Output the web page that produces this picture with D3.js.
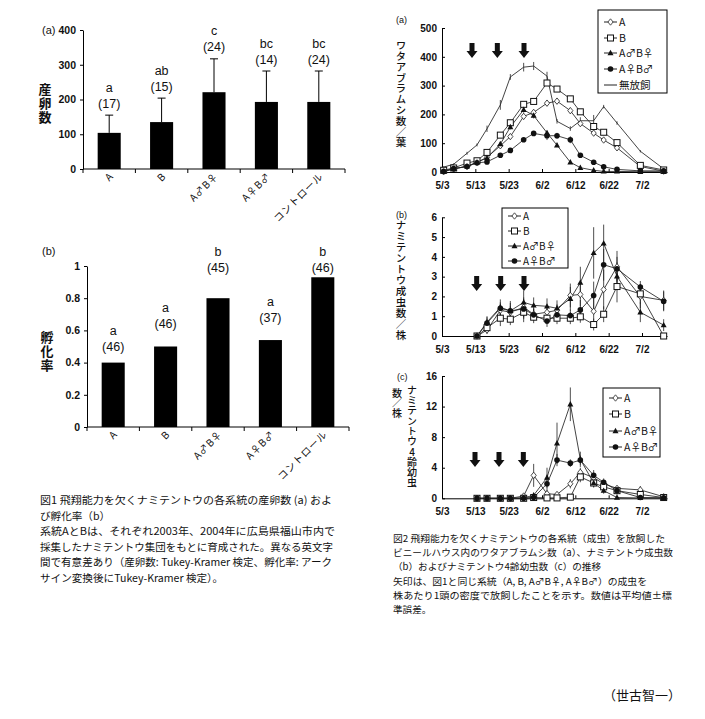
<!DOCTYPE html>
<html><head><meta charset="utf-8">
<script src="https://cdn.jsdelivr.net/npm/d3@7"></script>
<style>
body{margin:0;background:#fff}
svg{display:block}
text{font-family:"Noto Sans CJK JP","Noto Sans",sans-serif;fill:#111}
.lat{font-family:"Liberation Sans",Arial,sans-serif}
</style>
</head><body>
<svg id="c" width="705" height="719"></svg>
<script>
// ---------- Figure 1 data ----------
const strains = ["A","B","A♂B♀","A♀B♂","コントロール"];
const eggMean = [104,135,221,193,193];
const eggSE = [51,69,96,89,89];
const eggLetters = ["a","ab","c","bc","bc"];
const eggN = ["(17)","(15)","(24)","(14)","(24)"];
const eggTicks = [0,100,200,300,400];

const hatchRate = [0.40,0.50,0.80,0.54,0.93];
const hatchLetters = ["a","a","b","a","b"];
const hatchN = ["(46)","(46)","(45)","(37)","(46)"];
const hatchLabelLevel = [0.50,0.64,0.99,0.68,0.99];
const hatchTicks = [0,0.2,0.4,0.6,0.8,1];

// ---------- Figure 2 data ----------
const dateTicks = ["5/3","5/13","5/23","6/2","6/12","6/22","7/2"];
const aphidDates = ["5/3","5/6","5/10","5/13","5/16","5/20","5/23","5/27","5/30","6/3","6/6","6/10","6/13","6/17","6/20","6/24","7/1","7/8"];
const aphidA    = [2,11,19,33,51,91,123,193,207,239,246,213,168,135,111,84,19,3];
const aphidB    = [6,14,31,39,68,128,171,235,245,309,288,254,209,158,138,102,23,7];
const aphidAmBf = [2,11,20,34,49,97,156,216,196,136,93,34,15,6,2,2,1,1];
const aphidAfBm = [2,12,19,32,35,58,75,112,134,126,126,112,58,34,18,9,4,4];
const aphidNone = [17,27,65,94,150,233,330,364,368,333,176,151,178,178,227,170,72,11];
const aphidAErr    = [1,2,3,3,4,6,8,10,8,10,10,10,8,8,6,6,3,1];
const aphidBErr    = [1,2,3,3,4,6,8,8,8,8,8,8,8,6,6,6,3,1];
const aphidAmBfErr = [1,2,3,3,4,8,8,10,10,8,6,4,2,1,1,1,1,1];
const aphidAfBmErr = [1,2,3,3,4,4,5,6,8,15,10,12,6,4,3,2,1,1];
const aphidNoneErr = [3,3,5,5,11,17,10,15,14,15,8,8,12,20,6,6,4,3];
const aphidArrowDays = [9.0,16.6,24.6];

const adultDates = ["5/13","5/16","5/20","5/23","5/27","5/30","6/3","6/6","6/10","6/13","6/17","6/20","6/24","7/1","7/8"];
const adultA    = [0,0.3,1.3,1.2,1.45,1.1,1.2,1.3,2.05,2.1,1.25,2.35,3.5,2.0,1.8];
const adultB    = [0,0.42,0.9,0.85,1.2,0.95,0.9,0.9,0.9,0.97,0.58,1.1,2.5,2.13,0];
const adultAmBf = [0,0.7,1.45,1.27,1.7,1.55,1.5,1.4,1.88,2.7,4.2,4.68,3.02,1.2,0.55];
const adultAfBm = [0,0.65,1.4,1.27,1.37,1.07,0.76,1.07,1.03,1.32,2.05,3.6,3.4,2.48,1.75];
const adultAErr    = [0,0.2,0.3,0.3,0.5,0.3,0.3,0.3,0.6,0.6,0.7,1.0,0.8,0.6,0.5];
const adultBErr    = [0,0.2,0.4,0.3,0.5,0.3,0.3,0.3,0.3,0.3,0.3,0.4,0.8,0.5,0];
const adultAmBfErr = [0,0.3,0.4,0.5,0.6,0.4,0.4,0.4,0.6,0.8,1.3,0.95,0.7,0.5,0.3];
const adultAfBmErr = [0,0.3,0.3,0.4,0.5,0.3,0.3,0.3,0.3,0.5,0.7,0.8,0.6,0.3,0.5];
const adultArrowDays = [10.4,17.6,24.6];

const larvaDates = ["5/13","5/16","5/20","5/23","5/27","5/30","6/3","6/6","6/10","6/13","6/17","6/20","6/24","7/1","7/8"];
const larvaA    = [0,0,0,0,0.3,3.0,0.6,0.5,1.9,3.4,2.7,1.9,1.3,1.1,0.2];
const larvaB    = [0,0,0,0,0,0.1,0.05,0.05,0.15,2.8,2.0,1.5,1.0,0.5,0.1];
const larvaAmBf = [0,0,0,0,0.05,0.4,2.7,7.2,12.3,5.1,2.0,1.0,0.1,0.05,0.05];
const larvaAfBm = [0,0,0,0,0,0.1,1.9,5.0,4.6,5.0,3.0,2.1,1.0,0.1,0.05];
const larvaAErr    = [0,0,0,0,0.2,1.5,0.4,0.3,0.6,0.6,0.5,0.4,0.3,0.5,0.1];
const larvaBErr    = [0,0,0,0,0,0.1,0.05,0.05,0.1,0.7,0.5,0.4,0.3,0.2,0.05];
const larvaAmBfErr = [0,0,0,0,0.05,0.3,1.3,2.7,2.2,1.0,0.6,0.4,0.1,0.1,0];
const larvaAfBmErr = [0,0,0,0,0,0.1,1.2,0.8,0.5,0.6,0.7,0.5,0.5,0.1,0.05];
const larvaArrowDays = [9.9,17.1,24.4];

const fig1Caption = [
  "図1 飛翔能力を欠くナミテントウの各系統の産卵数 (a) およ",
  "び孵化率（b）",
  "系統AとBは、それぞれ2003年、2004年に広島県福山市内で",
  "採集したナミテントウ集団をもとに育成された。異なる英文字",
  "間で有意差あり（産卵数: Tukey-Kramer 検定、孵化率: アーク",
  "サイン変換後にTukey-Kramer 検定）。"
];
const fig2Caption = [
  "図2 飛翔能力を欠くナミテントウの各系統（成虫）を放飼した",
  "ビニールハウス内のワタアブラムシ数（a）、ナミテントウ成虫数",
  "（b）およびナミテントウ4齢幼虫数（c）の推移",
  "矢印は、図1と同じ系統（A, B, A♂B♀, A♀B♂）の成虫を",
  "株あたり1頭の密度で放飼したことを示す。数値は平均値±標",
  "準誤差。"
];
const author = "（世古智一）";

// ---------- drawing ----------
const svg = d3.select("#c");
const base = new Date(2005,4,3);
const dayOf = s => { const [m,d] = s.split("/").map(Number); return d3.timeDay.count(base, new Date(2005,m-1,d)); };

function vText(str, x, top, size, ls, weight){
  svg.append("text").attr("x",x).attr("y",top)
    .style("writing-mode","vertical-rl").style("text-orientation","upright")
    .attr("font-size",size).attr("letter-spacing",ls).attr("font-weight",weight||400).text(str);
}

function styleAxis(sel){
  sel.select(".domain").attr("stroke","#000").attr("stroke-width",1);
  sel.selectAll(".tick line").attr("stroke","#000");
  sel.selectAll(".tick text").attr("fill","#111").attr("class","lat").style("font-family",'"Liberation Sans",Arial,sans-serif');
}

function barPanel(o){
  const x = d3.scaleBand().domain(strains).range(o.xr).paddingInner(0.56).paddingOuter(0.28);
  const y = d3.scaleLinear().domain([0, o.ticks[o.ticks.length-1]]).range(o.yr);
  const g = svg.append("g");
  const cx = c => x(c) + x.bandwidth()/2;
  g.selectAll("rect").data(o.vals).join("rect")
    .attr("x",(d,i)=>x(strains[i])).attr("width",x.bandwidth())
    .attr("y",d=>y(d)).attr("height",d=>y(0)-y(d)).attr("fill","#000");
  if (o.err){
    o.vals.forEach((v,i)=>{
      const c = cx(strains[i]);
      g.append("line").attr("x1",c).attr("x2",c).attr("y1",y(v)).attr("y2",y(v+o.err[i])).attr("stroke","#000");
      g.append("line").attr("x1",c-4).attr("x2",c+4).attr("y1",y(v+o.err[i])).attr("y2",y(v+o.err[i])).attr("stroke","#000");
    });
  }
  const ay = g.append("g").attr("transform",`translate(${o.xr[0]},0)`)
    .call(d3.axisLeft(y).tickValues(o.ticks).tickSizeInner(3).tickSizeOuter(0).tickPadding(4).tickFormat(o.fmt));
  styleAxis(ay);
  ay.selectAll(".tick text").attr("font-size",10.5).attr("font-weight",700);
  const half = x.step()*x.paddingInner()/2;
  const bounds = strains.map(c=>x(c)-half).concat([x(strains[strains.length-1])+x.bandwidth()+half]);
  g.append("line").attr("x1",o.xr[0]).attr("x2",o.xr[1]).attr("y1",y(0)).attr("y2",y(0)).attr("stroke","#000");
  g.selectAll("line.bt").data(bounds).join("line").attr("class","bt")
    .attr("x1",d=>d).attr("x2",d=>d).attr("y1",y(0)).attr("y2",y(0)+4).attr("stroke","#000");
  g.selectAll("text.xl").data(strains).join("text").attr("class","xl")
    .attr("transform",c=>`translate(${cx(c)+5},${y(0)+8}) rotate(-45)`)
    .attr("text-anchor","end").attr("font-size",10).attr("letter-spacing",0.8).text(c=>c);
  const top = i => o.err ? y(o.vals[i]+o.err[i]) - 12 : y(o.labelAt[i]);
  g.selectAll("text.n").data(o.n).join("text").attr("class","lat")
    .attr("x",(d,i)=>cx(strains[i])).attr("y",(d,i)=>top(i)).attr("dy","0.36em")
    .attr("text-anchor","middle").attr("font-size",12.5).text(d=>d);
  g.selectAll("text.l").data(o.letters).join("text").attr("class","lat")
    .attr("x",(d,i)=>cx(strains[i])).attr("y",(d,i)=>top(i)-16).attr("dy","0.36em")
    .attr("text-anchor","middle").attr("font-size",12.5).text(d=>d);
}

barPanel({xr:[83,345], yr:[169,30], ticks:eggTicks, vals:eggMean, err:eggSE, n:eggN, letters:eggLetters, fmt:d3.format("d")});
barPanel({xr:[87,349], yr:[427,266], ticks:hatchTicks, vals:hatchRate, labelAt:hatchLabelLevel, n:hatchN, letters:hatchLetters, fmt:d=>d3.format("~g")(d)});

svg.append("text").attr("class","lat").attr("x",42).attr("y",34).attr("font-size",11).text("(a)");
svg.append("text").attr("class","lat").attr("x",42).attr("y",255).attr("font-size",11).text("(b)");
vText("産卵数",45,83,13,1,700);
vText("孵化率",47,331,13,1,700);

// markers
const markers = {
  diamond: (g,x,y)=>g.append("path").attr("d",`M${x},${y-3.2}L${x+2.6},${y}L${x},${y+3.2}L${x-2.6},${y}Z`).attr("fill","#fff").attr("stroke","#222").attr("stroke-width",0.8),
  square: (g,x,y)=>g.append("rect").attr("x",x-3).attr("y",y-3).attr("width",6).attr("height",6).attr("fill","#fff").attr("stroke","#111").attr("stroke-width",1),
  triangle: (g,x,y)=>g.append("path").attr("d",`M${x},${y-3.2}L${x+3},${y+2.2}L${x-3},${y+2.2}Z`).attr("fill","#111"),
  circle: (g,x,y)=>g.append("circle").attr("cx",x).attr("cy",y).attr("r",2.8).attr("fill","#111"),
  none: ()=>{}
};

function arrow(g,cx,top){
  g.append("path").attr("d",`M${cx-2.5},${top}H${cx+2.5}V${top+8}H${cx+5.5}L${cx},${top+15}L${cx-5.5},${top+8}H${cx-2.5}Z`).attr("fill","#111");
}

function linePanel(o){
  const x = d3.scaleLinear().domain([0,67.5]).range([442,667]);
  const y = d3.scaleLinear().domain([0,o.ticks[o.ticks.length-1]]).range(o.yr);
  const g = svg.append("g");
  const ay = g.append("g").attr("transform","translate(442,0)")
    .call(d3.axisLeft(y).tickValues(o.ticks).tickFormat(d3.format("d")).tickSizeInner(-3).tickSizeOuter(0).tickPadding(5));
  styleAxis(ay);
  ay.selectAll(".tick text").attr("font-size",10).attr("font-weight",700);
  const ax = g.append("g").attr("transform",`translate(0,${o.yr[0]})`)
    .call(d3.axisBottom(x).tickValues(dateTicks.map(dayOf)).tickFormat((d,i)=>dateTicks[i]).tickSizeInner(-3).tickSizeOuter(0).tickPadding(10));
  styleAxis(ax);
  ax.selectAll(".tick text").attr("font-size",10).attr("font-weight",700);
  const line = d3.line().x(d=>d.x).y(d=>d.y);
  o.series.forEach(s=>{
    const pts = o.dates.map((dt,i)=>({x:x(dayOf(dt)+0.5), y:y(s.vals[i]), v:s.vals[i], e:s.err[i]}));
    pts.forEach(p=>{ if(p.e>0) g.append("line").attr("x1",p.x).attr("x2",p.x).attr("y1",y(Math.max(0,p.v-p.e))).attr("y2",y(p.v+p.e)).attr("stroke","#222").attr("stroke-width",0.8); });
    g.append("path").attr("d",line(pts)).attr("fill","none").attr("stroke","#222").attr("stroke-width",0.85);
  });
  o.series.forEach(s=>{
    o.dates.forEach((dt,i)=>markers[s.m](g,x(dayOf(dt)+0.5),y(s.vals[i])));
  });
  o.arrows.forEach(d=>arrow(g,x(d),o.arrowTop));
  const L = o.legend;
  g.append("rect").attr("x",L.x).attr("y",L.y).attr("width",L.w).attr("height",L.h).attr("fill","#fff").attr("stroke","#000");
  o.series.forEach((s,i)=>{
    const yy = L.rows[i];
    g.append("line").attr("x1",L.x+6).attr("x2",L.x+19).attr("y1",yy).attr("y2",yy).attr("stroke","#222");
    markers[s.m](g,L.x+12.5,yy);
    g.append("text").attr("x",L.x+21).attr("y",yy).attr("dy","0.36em").attr("font-size",L.fs).text(s.name);
  });
}

linePanel({
  yr:[172,28], ticks:[0,100,200,300,400,500], dates:aphidDates,
  series:[
    {name:"A", vals:aphidA, err:aphidAErr, m:"diamond"},
    {name:"B", vals:aphidB, err:aphidBErr, m:"square"},
    {name:"A♂B♀", vals:aphidAmBf, err:aphidAmBfErr, m:"triangle"},
    {name:"A♀B♂", vals:aphidAfBm, err:aphidAfBmErr, m:"circle"},
    {name:"無放飼", vals:aphidNone, err:aphidNoneErr, m:"none"}
  ],
  arrows:aphidArrowDays, arrowTop:43,
  legend:{x:598,y:10,w:69,h:83,rows:[22,38,53,69,85],fs:10.5}
});
linePanel({
  yr:[336,217.3], ticks:[0,1,2,3,4,5,6], dates:adultDates,
  series:[
    {name:"A", vals:adultA, err:adultAErr, m:"diamond"},
    {name:"B", vals:adultB, err:adultBErr, m:"square"},
    {name:"A♂B♀", vals:adultAmBf, err:adultAmBfErr, m:"triangle"},
    {name:"A♀B♂", vals:adultAfBm, err:adultAfBmErr, m:"circle"}
  ],
  arrows:adultArrowDays, arrowTop:276,
  legend:{x:502,y:208,w:66,h:60,rows:[216,231,246,261],fs:10}
});
linePanel({
  yr:[498.3,376], ticks:[0,4,8,12,16], dates:larvaDates,
  series:[
    {name:"A", vals:larvaA, err:larvaAErr, m:"diamond"},
    {name:"B", vals:larvaB, err:larvaBErr, m:"square"},
    {name:"A♂B♀", vals:larvaAmBf, err:larvaAmBfErr, m:"triangle"},
    {name:"A♀B♂", vals:larvaAfBm, err:larvaAfBmErr, m:"circle"}
  ],
  arrows:larvaArrowDays, arrowTop:452,
  legend:{x:603,y:388,w:57,h:69,rows:[398,414,431,447],fs:10.5}
});

svg.append("text").attr("class","lat").attr("x",396).attr("y",23).attr("font-size",9).text("(a)");
svg.append("text").attr("class","lat").attr("x",396).attr("y",218).attr("font-size",9).text("(b)");
svg.append("text").attr("class","lat").attr("x",397).attr("y",380).attr("font-size",9).text("(c)");
vText("ワタアブラムシ数／葉",401,40,10.5,0.3,500);
vText("ナミテントウ成虫数／株",401,220,10.5,0.5,500);
vText("ナミテントウ4齢幼虫",412,385,10,0.3,500);
vText("数／株",397,388,10,0,500);

const w1 = [292,null,295,293,292,null];
fig1Caption.forEach((t,i)=>{
  const tx = svg.append("text").attr("x",40).attr("y",504+i*15.5).attr("font-size",10.6).text(t);
  if (w1[i]) tx.attr("textLength",w1[i]).attr("lengthAdjust","spacingAndGlyphs");
});
const w2 = [272,280,null,254,279,null];
fig2Caption.forEach((t,i)=>{
  const tx = svg.append("text").attr("x",393).attr("y",542+i*14.2).attr("font-size",9.6).text(t);
  if (w2[i]) tx.attr("textLength",w2[i]).attr("lengthAdjust","spacingAndGlyphs");
});
svg.append("text").attr("x",603).attr("y",700).attr("font-size",13).text(author);
</script>
</body></html>
